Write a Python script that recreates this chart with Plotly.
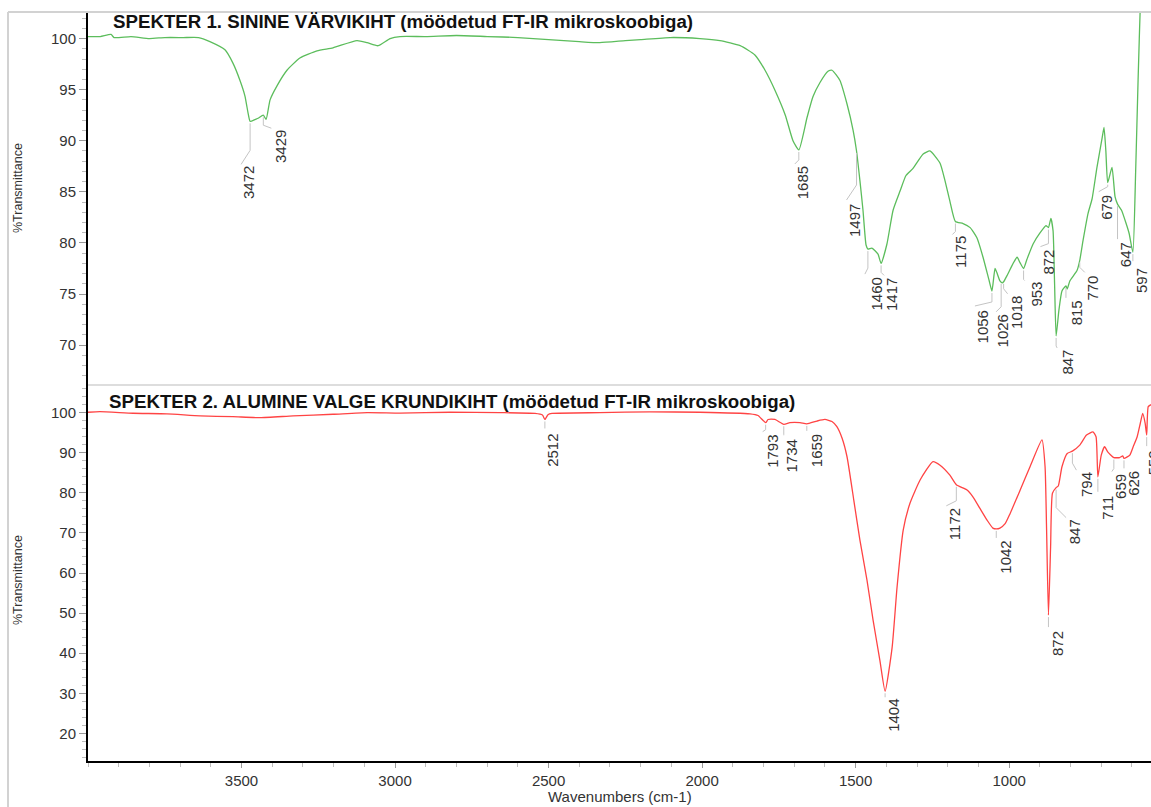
import numpy as np
import plotly.graph_objects as go

# ---------------------------------------------------------------------------
# Spectrum 1: blue paint layer (FT-IR microscope), %T vs wavenumber
wn_top = [4000, 3960, 3925, 3915, 3860, 3800, 3750, 3690, 3640, 3603, 3554, 3528,
          3505, 3489, 3478, 3472, 3455, 3446, 3429, 3420, 3407, 3384, 3352, 3310,
          3254, 3202, 3124, 3091, 3055, 3016, 2984, 2900, 2800, 2700, 2600, 2500,
          2400, 2333, 2250, 2200, 2104, 2007, 1942, 1876, 1828, 1795, 1762, 1729,
          1704, 1685, 1658, 1639, 1616, 1590, 1577, 1551, 1528, 1508, 1497, 1486,
          1476, 1466, 1460, 1447, 1427, 1417, 1398, 1378, 1355, 1336, 1313, 1280,
          1258, 1225, 1209, 1193, 1175, 1150, 1127, 1105, 1085, 1065, 1056, 1046,
          1040, 1030, 1022, 1018, 1007, 987, 974, 965, 953, 942, 922, 899,
          880, 872, 864, 857, 852, 847, 838, 828, 815, 811, 802, 779,
          770, 759, 743, 730, 714, 697, 691, 685, 679, 665, 655, 647,
          634, 619, 609, 597, 588, 580, 572, 560]
t_top = [100.2, 100.2, 100.4, 100.1, 100.2, 100.0, 100.1, 100.1, 100.1, 99.7, 98.9, 97.6,
         95.9, 94.4, 92.6, 91.9, 92.1, 92.2, 92.5, 92.1, 94.0, 95.4, 96.9, 98.1,
         98.8, 99.1, 99.8, 99.6, 99.3, 100.0, 100.2, 100.2, 100.3, 100.2, 100.1, 99.9,
         99.7, 99.6, 99.8, 99.9, 100.1, 100.0, 99.8, 99.3, 98.4, 96.9, 94.9, 92.5,
         90.0, 89.1, 92.3, 94.3, 95.7, 96.8, 96.9, 95.9, 93.6, 91.0, 89.0, 86.1,
         83.2, 79.8, 79.4, 79.5, 78.9, 78.0, 79.9, 83.2, 85.1, 86.6, 87.3, 88.7,
         89.0, 87.8, 86.1, 84.1, 82.1, 81.9, 81.5, 80.5, 78.6, 76.3, 75.3, 77.5,
         77.1, 76.3, 76.1, 76.2, 76.8, 78.0, 78.6, 78.1, 77.5, 78.4, 79.9, 81.0,
         81.7, 81.5, 82.4, 81.2, 76.0, 70.9, 73.4, 75.3, 75.8, 75.5, 76.3, 77.3,
         78.3, 80.3, 82.9, 84.3, 87.4, 90.3, 91.3, 89.0, 85.9, 87.4, 84.5, 83.8,
         83.2, 81.9, 80.9, 79.1, 87.0, 96.0, 104.0, 112.0]

# Spectrum 2: lower white ground layer
wn_bot = [4000, 3961, 3853, 3743, 3635, 3528, 3440, 3332, 3202, 3091, 2984, 2821,
          2658, 2544, 2520, 2512, 2502, 2489, 2333, 2170, 2007, 1844, 1818, 1793,
          1785, 1763, 1734, 1714, 1681, 1659, 1626, 1600, 1577, 1561, 1544, 1528,
          1506, 1486, 1463, 1443, 1421, 1404, 1381, 1365, 1345, 1323, 1290, 1248,
          1225, 1193, 1172, 1137, 1118, 1095, 1072, 1053, 1042, 1030, 1013, 997,
          964, 932, 893, 883, 878, 872, 865, 859, 847, 840, 828, 811,
          794, 770, 748, 727, 717, 711, 700, 689, 679, 659, 640, 630,
          626, 607, 596, 583, 573, 565, 557, 552, 547, 538]
t_bot = [100.1, 100.25, 99.85, 99.7, 99.2, 99.0, 98.75, 99.2, 99.6, 100.0, 99.9, 100.1,
         100.0, 99.8, 99.4, 98.3, 99.5, 99.8, 100.0, 100.2, 100.1, 99.7, 99.3, 97.5,
         98.3, 98.3, 97.1, 97.5, 97.5, 97.2, 97.9, 98.3, 97.8, 96.5, 93.6, 89.0,
         78.2, 68.2, 58.2, 48.2, 38.2, 30.5, 41.5, 56.5, 70.7, 77.4, 83.2, 87.8,
         86.9, 84.4, 82.0, 80.7, 79.0, 76.1, 73.2, 71.2, 71.0, 71.2, 72.3, 74.8,
         80.7, 86.5, 93.2, 86.5, 70.7, 49.5, 66.5, 79.9, 81.3, 81.7, 86.5, 89.8,
         90.4, 91.9, 94.4, 95.2, 94.0, 84.0, 89.4, 91.5, 90.2, 88.8, 88.8, 89.2,
         88.6, 89.4, 91.5, 94.0, 97.3, 99.8, 97.3, 94.4, 101.5, 102.0]

# Peak labels (cm-1)
peaks_top = [3472, 3429, 1685, 1497, 1460, 1417, 1175, 1056, 1026, 1018, 953,
             872, 847, 815, 770, 679, 647, 597]
peaks_bot = [2512, 1793, 1734, 1659, 1404, 1172, 1042, 872, 847, 794, 711,
             659, 626, 552]

# Axis ticks
x_ticks = [3500, 3000, 2500, 2000, 1500, 1000]
y_ticks_top = [70, 75, 80, 85, 90, 95, 100]
y_ticks_bot = [20, 30, 40, 50, 60, 70, 80, 90, 100]

title_top = "SPEKTER 1. SININE VÄRVIKIHT (möödetud FT-IR mikroskoobiga)"
title_bot = "SPEKTER 2. ALUMINE VALGE KRUNDIKIHT (möödetud FT-IR mikroskoobiga)"

# ---------------------------------------------------------------------------
# Leader geometry for peak labels, in screen pixels relative to the peak:
# (vertical drop, end dx, end dy, text centre dx, text top dy)
lead_top = [(27, -9, 41, -1, 42), (8, 8, 11, 17, 12), (8, -4, 12, 4, 13),
            (32, -10, 47, -2, 50), (17, -3, 23, 9, 25), (7, 3, 10, 11, 12),
            (8, -3, 11, 5, 11), (9, -17, 13, -9, 16), (23, -5, 28, 1, 30),
            (5, 4, 10, 13, 11), (9, 1, 10, 12, 10), (14, -8, 17, 0, 19),
            (8, 1, 10, 11, 11), (10, 0, 10, 10, 11), (5, 5, 10, 13, 12),
            (2, -9, 7, -2, 9), (33, 0, 33, 8, 35), (7, 0, 7, 8.5, 13)]
lead_bot = [(7, 0, 7, 8, 11), (5, -3, 7, 7, 9), (8, 0, 9, 8, 12),
            (5, 0, 5, 10, 7), (4, 0, 4, 9, 5), (14, -10, 19, -2, 20),
            (7, 0, 7, 9, 9), (10, 0, 10, 9, 13), (18, 10, 28, 18, 29),
            (10, 4, 17, 14, 18), (13, 0, 13, 10, 16), (9, -2, 12, 6, 13),
            (8, 0, 8, 10, 9), (9, 0, 9, 7, 12)]

# Page geometry
W, H = 1151, 807
ML, MR, MT, MB = 88, 0, 12, 46
plot_w = W - ML - MR
plot_h = H - MT - MB
split = 376 / plot_h
X_RANGE = [4000, 538]
Y_TOP = [66.1, 102.6]
Y_BOT = [13.1, 106.9]

px_per_wn = plot_w / (X_RANGE[0] - X_RANGE[1])
ppu_top = plot_h * (1 - split) / (Y_TOP[1] - Y_TOP[0])
ppu_bot = plot_h * split / (Y_BOT[1] - Y_BOT[0])

FONT = "Liberation Sans, Arial, sans-serif"
TXT = "#333333"
LEAD = "#c4c4c4"
GREEN = "#5cbd5c"
RED = "#ff4444"

fig = go.Figure()
fig.add_trace(go.Scatter(x=wn_top, y=t_top, mode="lines", xaxis="x2", yaxis="y2",
                         line=dict(color=GREEN, width=1.3, shape="spline", smoothing=0.5),
                         hoverinfo="skip"))
fig.add_trace(go.Scatter(x=wn_bot, y=t_bot, mode="lines", xaxis="x", yaxis="y",
                         line=dict(color=RED, width=1.3, shape="spline", smoothing=0.5),
                         hoverinfo="skip"))

shapes = []
annotations = []


def add_labels(peaks, leads, wn, t, xref, yref, ppu):
    wn_arr = np.array(wn[::-1], dtype=float)
    t_arr = np.array(t[::-1], dtype=float)
    for p, (knee, edx, edy, tdx, ttop) in zip(peaks, leads):
        val = float(np.interp(p, wn_arr, t_arr))
        y0 = val - 2 / ppu
        y1 = y0 - knee / ppu
        x2 = p - edx / px_per_wn
        y2 = y0 - edy / ppu
        shapes.append(dict(type="path", xref=xref, yref=yref,
                           path=f"M {p},{y0} L {p},{y1} L {x2},{y2}",
                           line=dict(color=LEAD, width=1)))
        annotations.append(dict(x=p, y=y0, xref=xref, yref=yref, text=str(p),
                                showarrow=False, textangle=-90, xanchor="center",
                                yanchor="top", xshift=tdx, yshift=-ttop, borderpad=0,
                                font=dict(family=FONT, size=15, color=TXT)))


add_labels(peaks_top, lead_top, wn_top, t_top, "x2", "y2", ppu_top)
add_labels(peaks_bot, lead_bot, wn_bot, t_bot, "x", "y", ppu_bot)


def px_x(px):
    return (px - ML) / plot_w


def px_y(py):
    return (H - MB - py) / plot_h


# Frame lines and panel separator
shapes.append(dict(type="line", xref="paper", yref="paper", x0=px_x(8), x1=1,
                   y0=1, y1=1, line=dict(color="#d2d2d2", width=2)))
shapes.append(dict(type="line", xref="paper", yref="paper", x0=px_x(8), x1=px_x(8),
                   y0=1, y1=px_y(H), line=dict(color="#d2d2d2", width=2)))
shapes.append(dict(type="line", xref="paper", yref="paper", x0=0, x1=1,
                   y0=split, y1=split, line=dict(color="#d2d2d2", width=1.5)))

# Panel titles and axis titles
annotations.append(dict(x=px_x(111), y=px_y(21), xref="paper", yref="paper",
                        text=f"<b>{title_top}</b>", showarrow=False, xanchor="left",
                        yanchor="middle", font=dict(family=FONT, size=18.7, color="#111111")))
annotations.append(dict(x=px_x(107), y=px_y(401), xref="paper", yref="paper",
                        text=f"<b>{title_bot}</b>", showarrow=False, xanchor="left",
                        yanchor="middle", font=dict(family=FONT, size=18.7, color="#111111")))
for cy in (188, 580):
    annotations.append(dict(x=px_x(18), y=px_y(cy), xref="paper", yref="paper",
                            text="%Transmittance", showarrow=False, textangle=-90,
                            xanchor="center", yanchor="middle",
                            font=dict(family=FONT, size=12.5, color=TXT)))
annotations.append(dict(x=0.5, y=px_y(797), xref="paper", yref="paper",
                        text="Wavenumbers (cm-1)", showarrow=False, xanchor="center",
                        yanchor="middle", font=dict(family=FONT, size=15, color=TXT)))

tickfont = dict(family=FONT, size=15, color=TXT)
yaxis_common = dict(showgrid=False, zeroline=False, showline=True, linecolor="black",
                    linewidth=2, ticks="outside", ticklen=7, tickcolor="#9a9a9a",
                    tickwidth=1, tickfont=tickfont, fixedrange=True)

fig.update_layout(
    width=W, height=H,
    margin=dict(l=ML, r=MR, t=MT, b=MB, pad=0),
    paper_bgcolor="white", plot_bgcolor="white",
    showlegend=False,
    xaxis=dict(domain=[0, 1], range=X_RANGE, anchor="y", showgrid=False, zeroline=False,
               showline=True, linecolor="black", linewidth=2, ticks="outside",
               ticklen=5, tickcolor="#9a9a9a", tickmode="array", tickvals=x_ticks,
               tickfont=tickfont,
               minor=dict(dtick=100, tick0=0, ticks="outside", ticklen=4,
                          tickcolor="#bdbdbd"),
               fixedrange=True),
    xaxis2=dict(domain=[0, 1], range=X_RANGE, anchor="y2", matches="x", visible=False),
    yaxis=dict(domain=[0, split], range=Y_BOT, anchor="x", tickmode="array",
               tickvals=y_ticks_bot,
               minor=dict(dtick=2, tick0=0, ticks="outside", ticklen=4,
                          tickcolor="#bdbdbd"),
               **yaxis_common),
    yaxis2=dict(domain=[split, 1], range=Y_TOP, anchor="x2", tickmode="array",
                tickvals=y_ticks_top,
                minor=dict(dtick=1, tick0=0, ticks="outside", ticklen=4,
                           tickcolor="#bdbdbd"),
                **yaxis_common),
    shapes=shapes,
    annotations=annotations,
)

fig.write_html("out.html", config={"displayModeBar": False})
